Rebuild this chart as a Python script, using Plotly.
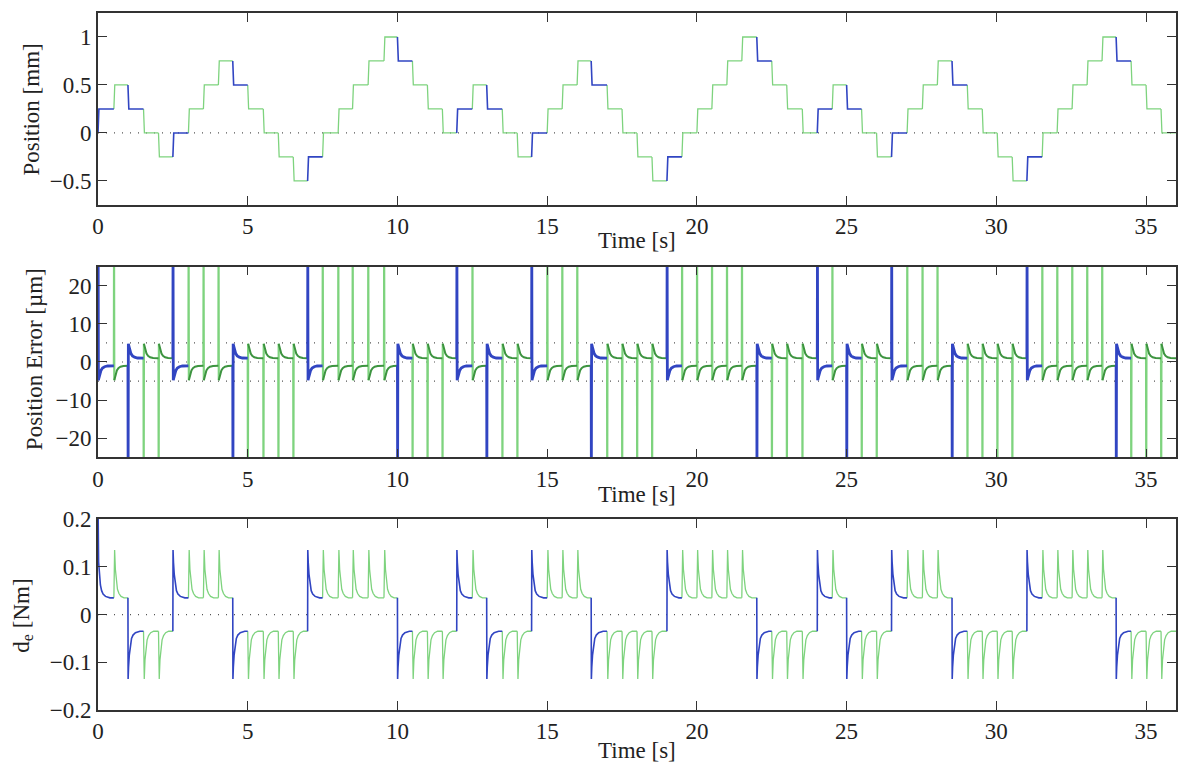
import plotly.graph_objects as go

# ---------------- data ----------------
X_MAX = 36.0
X_TICKS = [0, 5, 10, 15, 20, 25, 30, 35]

# step events: time [s] and commanded position after the step [mm]
EVENT_T = [0.0, 0.53, 1.0, 1.52, 2.02, 2.5, 3.02, 3.52, 4.02, 4.5, 5.0, 5.52,
           6.02, 6.52, 7.0, 7.5, 8.02, 8.5, 9.02, 9.55, 10.0, 10.5, 11.0, 11.5,
           11.98, 12.5, 12.98, 13.5, 14.0, 14.48, 15.0, 15.5, 16.0, 16.47, 17.0, 17.5,
           18.0, 18.5, 19.0, 19.5, 20.0, 20.5, 21.0, 21.5, 22.0, 22.5, 23.0, 23.52,
           24.02, 24.52, 25.0, 25.5, 26.0, 26.5, 27.02, 27.53, 28.03, 28.52, 29.03, 29.53,
           30.03, 30.53, 31.02, 31.53, 32.03, 32.53, 33.03, 33.53, 34.0, 34.5, 35.0, 35.5]
LEVEL_MM = [0.25, 0.5, 0.25, 0.0, -0.25, 0.0, 0.25, 0.5, 0.75, 0.5, 0.25, 0.0,
            -0.25, -0.5, -0.25, 0.0, 0.25, 0.5, 0.75, 1.0, 0.75, 0.5, 0.25, 0.0,
            0.25, 0.5, 0.25, 0.0, -0.25, 0.0, 0.25, 0.5, 0.75, 0.5, 0.25, 0.0,
            -0.25, -0.5, -0.25, 0.0, 0.25, 0.5, 0.75, 1.0, 0.75, 0.5, 0.25, 0.0,
            0.25, 0.5, 0.25, 0.0, -0.25, 0.0, 0.25, 0.5, 0.75, 0.5, 0.25, 0.0,
            -0.25, -0.5, -0.25, 0.0, 0.25, 0.5, 0.75, 1.0, 0.75, 0.5, 0.25, 0.0]
START_LEVEL = 0.0

# step transition of the position (offset [s] after the event)
STEP_DT = 0.03

# position-error transient after an upward step [um] (negated for downward steps)
ERR_DT = [0.0, 0.006, 0.014, 0.03, 0.06, 0.10, 0.15, 0.22, 0.32, 0.45]
ERR_SHAPE = [None, 30.0, -4.8, -4.2, -3.0, -2.2, -1.6, -1.25, -1.05, -1.0]
ERR_START = 0.0

# disturbance estimate transients after an upward step [Nm]
DE_REV_DT = [0.0, 0.006, 0.02, 0.045, 0.08, 0.12, 0.17, 0.25, 0.40]
DE_REV_SHAPE = [None, 0.135, 0.11, 0.085, 0.062, 0.05, 0.043, 0.038, 0.035]
DE_SPK_DT = [0.0, 0.025, 0.05, 0.08, 0.12, 0.17, 0.24, 0.34]
DE_SPK_SHAPE = [None, 0.135, 0.095, 0.07, 0.053, 0.044, 0.038, 0.035]
DE_START = 0.2
DE_FIRST_PEAK = 0.2

# reference (dotted) lines
POS_REF = [0.0]
ERR_REF = [-5.0, 0.0, 5.0]
DE_REF = [0.0]

# ---------------- styles ----------------
BLUE = "#3145c2"
GREEN = "#7ed37e"
GREEN_DARK = "#3d9440"
AXIS_COL = "#333333"
FONT = "Liberation Serif"
FS = 23

# ---------------- build traces ----------------
n = len(EVENT_T)
ends = EVENT_T[1:] + [X_MAX]
prev_level = [START_LEVEL] + LEVEL_MM[:-1]
direction = [1 if LEVEL_MM[i] > prev_level[i] else -1 for i in range(n)]
is_rev = [i == 0 or direction[i] != direction[i - 1] for i in range(n)]

pos = {"b": ([], []), "g": ([], [])}
err = {"b": ([], []), "gs": ([], []), "gd": ([], [])}
de = {"b": ([], []), "g": ([], [])}

err_prev = ERR_START
de_prev = DE_START
for i in range(n):
    t0 = EVENT_T[i]
    d = direction[i]
    key = "b" if is_rev[i] else "g"
    # position
    xs, ys = pos[key]
    xs += [t0, t0 + STEP_DT, ends[i], None]
    ys += [prev_level[i], LEVEL_MM[i], LEVEL_MM[i], None]
    # position error
    ts = [t0 + dt for dt in ERR_DT]
    vals = [err_prev] + [d * v for v in ERR_SHAPE[1:]]
    if is_rev[i]:
        xs, ys = err["b"]
        xs += ts + [ends[i], None]
        ys += vals + [vals[-1], None]
    else:
        xs, ys = err["gs"]
        xs += ts[:3] + [None]
        ys += vals[:3] + [None]
        xs, ys = err["gd"]
        xs += ts[2:] + [ends[i], None]
        ys += vals[2:] + [vals[-1], None]
    err_prev = vals[-1]
    # disturbance estimate
    if is_rev[i]:
        dts, shape = DE_REV_DT, DE_REV_SHAPE
    else:
        dts, shape = DE_SPK_DT, DE_SPK_SHAPE
    ts = [t0 + dt for dt in dts]
    vals = [de_prev] + [d * v for v in shape[1:]]
    if i == 0:
        vals[1] = DE_FIRST_PEAK
    xs, ys = de[key]
    xs += ts + [ends[i], None]
    ys += vals + [vals[-1], None]
    de_prev = vals[-1]

fig = go.Figure()

def ref_lines(levels, xa, ya):
    for lv in levels:
        fig.add_trace(go.Scatter(x=[0, X_MAX], y=[lv, lv], mode="lines", xaxis=xa, yaxis=ya,
                                 line=dict(color="#555555", width=1.2, dash="1px,7px"),
                                 hoverinfo="skip", showlegend=False))

ref_lines(POS_REF, "x", "y")
ref_lines(ERR_REF, "x2", "y2")
ref_lines(DE_REF, "x3", "y3")

fig.add_trace(go.Scatter(x=pos["g"][0], y=pos["g"][1], mode="lines", xaxis="x", yaxis="y",
                         line=dict(color=GREEN, width=1.3), showlegend=False))
fig.add_trace(go.Scatter(x=pos["b"][0], y=pos["b"][1], mode="lines", xaxis="x", yaxis="y",
                         line=dict(color=BLUE, width=1.6), showlegend=False))

fig.add_trace(go.Scatter(x=err["gs"][0], y=err["gs"][1], mode="lines", xaxis="x2", yaxis="y2",
                         line=dict(color=GREEN, width=2.2), showlegend=False))
fig.add_trace(go.Scatter(x=err["gd"][0], y=err["gd"][1], mode="lines", xaxis="x2", yaxis="y2",
                         line=dict(color=GREEN_DARK, width=2.0), showlegend=False))
fig.add_trace(go.Scatter(x=err["b"][0], y=err["b"][1], mode="lines", xaxis="x2", yaxis="y2",
                         line=dict(color=BLUE, width=2.8), showlegend=False))

fig.add_trace(go.Scatter(x=de["g"][0], y=de["g"][1], mode="lines", xaxis="x3", yaxis="y3",
                         line=dict(color=GREEN, width=1.3), showlegend=False))
fig.add_trace(go.Scatter(x=de["b"][0], y=de["b"][1], mode="lines", xaxis="x3", yaxis="y3",
                         line=dict(color=BLUE, width=1.6), showlegend=False))

W, H = 1179, 768
ML, MR, MT, MB = 98, 1, 9, 58
PH = H - MT - MB

def ydom(top_px, bot_px):
    return [(H - MB - bot_px) / PH, (H - MB - top_px) / PH]

def xax(anchor):
    return dict(range=[0, X_MAX], tickvals=X_TICKS, ticks="inside", ticklen=9, tickwidth=1.4,
                tickcolor=AXIS_COL, showline=True, linecolor=AXIS_COL, linewidth=1.6, mirror="ticks",
                showgrid=False, zeroline=False, anchor=anchor, domain=[0, 1],
                tickfont=dict(family=FONT, size=FS, color="#222222"))

def yax(rng, dtick, dom, anchor):
    return dict(range=rng, dtick=dtick, tick0=0, ticks="inside", ticklen=9, tickwidth=1.4,
                tickcolor=AXIS_COL, showline=True, linecolor=AXIS_COL, linewidth=1.6, mirror="ticks",
                showgrid=False, zeroline=False, anchor=anchor, domain=dom,
                tickfont=dict(family=FONT, size=FS, color="#222222"))

fig.update_layout(
    width=W, height=H,
    margin=dict(l=ML, r=MR, t=MT, b=MB),
    paper_bgcolor="white", plot_bgcolor="white",
    showlegend=False,
    font=dict(family=FONT, size=FS, color="#222222"),
    xaxis=xax("y"), yaxis=yax([-0.75, 1.25], 0.5, ydom(9, 202), "x"),
    xaxis2=xax("y2"), yaxis2=yax([-25, 25], 10, ydom(264, 456), "x2"),
    xaxis3=xax("y3"), yaxis3=yax([-0.2, 0.2], 0.1, ydom(518, 710), "x3"),
)

def px_x(px):
    return (px - ML) / (W - ML - MR)

def px_y(py):
    return (H - MB - py) / PH

annots = [
    ("Time [s]", px_x(638), px_y(238), 0),
    ("Time [s]", px_x(638), px_y(493), 0),
    ("Time [s]", px_x(638), px_y(751), 0),
    ("Position [mm]", px_x(31), px_y(106), -90),
    ("Position Error [µm]", px_x(34), px_y(357), -90),
    ("d<sub>e</sub> [Nm]", px_x(22), px_y(615), -90),
]
for text, x, y, ang in annots:
    fig.add_annotation(text=text, x=x, y=y, xref="paper", yref="paper", showarrow=False,
                       xanchor="center", yanchor="middle", textangle=ang,
                       font=dict(family=FONT, size=FS, color="#222222"))

fig.write_html("out.html")
